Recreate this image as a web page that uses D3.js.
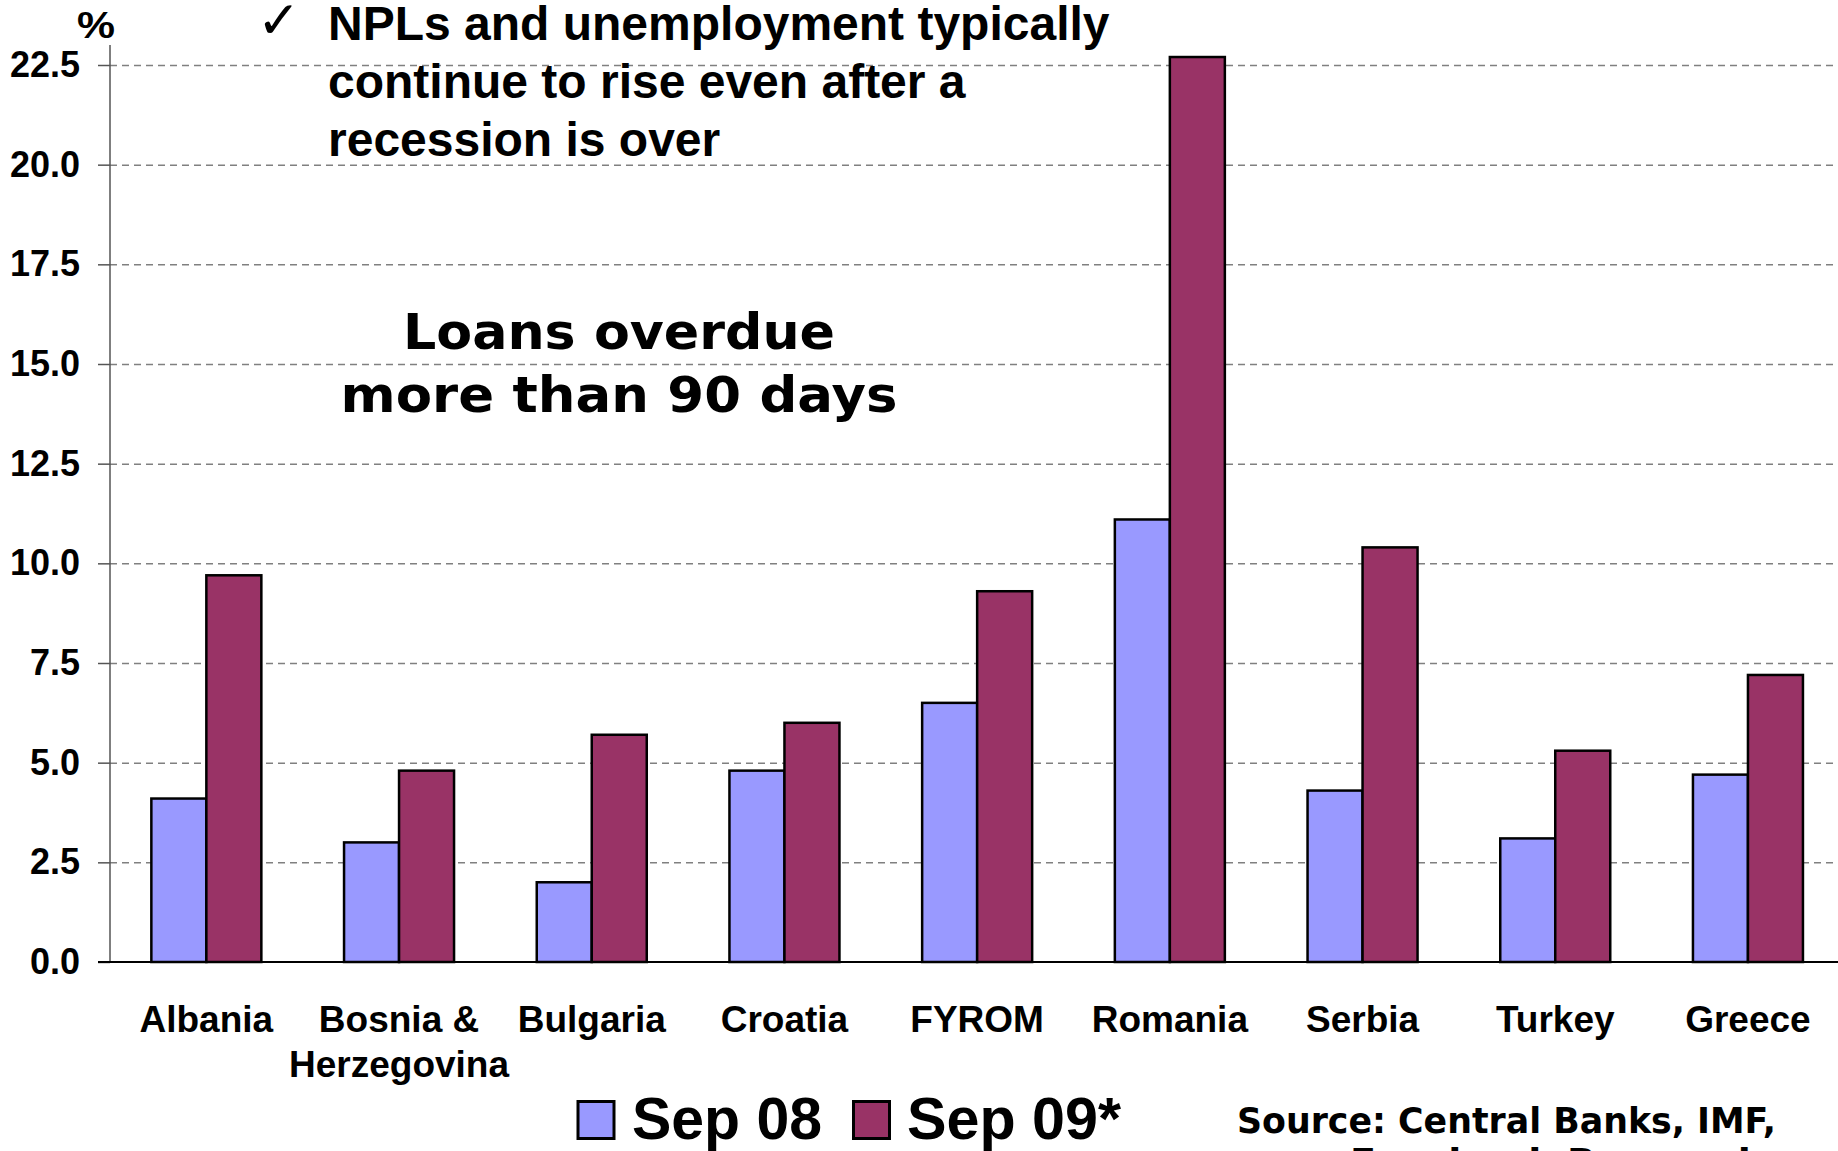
<!DOCTYPE html>
<html>
<head>
<meta charset="utf-8">
<script src="https://cdn.jsdelivr.net/npm/d3@7"></script>
<style>
  html, body { margin: 0; padding: 0; background: #fff; }
  svg { display: block; }
</style>
</head>
<body>
<script>
// Non-performing loans: share of loans overdue more than 90 days (%)
const categories = ["Albania", "Bosnia &\nHerzegovina", "Bulgaria", "Croatia", "FYROM", "Romania", "Serbia", "Turkey", "Greece"];
const seriesNames = ["Sep 08", "Sep 09*"];
const sep08 = [4.1, 3.0, 2.0, 4.8, 6.5, 11.1, 4.3, 3.1, 4.7];
const sep09 = [9.7, 4.8, 5.7, 6.0, 9.3, 22.7, 10.4, 5.3, 7.2];
const yTicks = [0, 2.5, 5, 7.5, 10, 12.5, 15, 17.5, 20, 22.5];
const colors = ["#9999FF", "#993366"];

const W = 1838, H = 1151;
const ARIAL = "'Liberation Sans', Arial, sans-serif";
const VERDANA = "'DejaVu Sans', Verdana, sans-serif";

const svg = d3.select("body").append("svg").attr("width", W).attr("height", H);

const axisX = 110, zeroY = 962, topY = 65;
const y = d3.scaleLinear().domain([0, 22.5]).range([zeroY, topY]);
const x0 = d3.scaleBand().domain(categories).range([axisX, axisX + 9 * 192.7]);
const x1 = d3.scaleBand().domain(seriesNames).range([0, 110]);
const groupOffset = (x0.bandwidth() - 110) / 2;

// dashed horizontal gridlines
const grid = svg.append("g")
  .attr("transform", `translate(${axisX},0)`)
  .call(d3.axisRight(y).tickValues(yTicks.filter(d => d > 0)).tickSize(W - axisX).tickFormat(""));
grid.select(".domain").remove();
grid.selectAll("line").attr("stroke", "#808080").attr("stroke-width", 1.5).attr("stroke-dasharray", "7,5");

// bars
const data = categories.map((c, i) => ({ c, vals: [sep08[i], sep09[i]] }));
const groups = svg.append("g").selectAll("g").data(data).join("g")
  .attr("transform", d => `translate(${x0(d.c) + groupOffset},0)`);
groups.selectAll("rect").data(d => d.vals.map((v, k) => ({ v, k })))
  .join("rect")
  .attr("x", d => x1(seriesNames[d.k]))
  .attr("width", x1.bandwidth())
  .attr("y", d => y(d.v))
  .attr("height", d => y(0) - y(d.v))
  .attr("fill", d => colors[d.k])
  .attr("stroke", "#000")
  .attr("stroke-width", 2.5);

// y axis
const yAxis = svg.append("g")
  .attr("transform", `translate(${axisX},0)`)
  .call(d3.axisLeft(y).tickValues(yTicks).tickSize(12).tickSizeOuter(0).tickPadding(18).tickFormat(d3.format(".1f")));
yAxis.select(".domain").attr("d", `M0,45V${zeroY}`).attr("stroke", "#555").attr("stroke-width", 1.5);
yAxis.selectAll(".tick line").attr("stroke", "#555").attr("stroke-width", 1.5);
yAxis.selectAll(".tick text")
  .attr("font-family", ARIAL).attr("font-weight", "bold").attr("font-size", 36).attr("fill", "#000");

// category axis line
svg.append("line")
  .attr("x1", 98).attr("x2", W).attr("y1", zeroY).attr("y2", zeroY)
  .attr("stroke", "#000").attr("stroke-width", 2);

// category labels
const catLabels = svg.append("g").selectAll("text").data(categories).join("text")
  .attr("x", d => x0(d) + x0.bandwidth() / 2)
  .attr("y", 1032)
  .attr("text-anchor", "middle")
  .attr("font-family", ARIAL).attr("font-weight", "bold").attr("font-size", 37);
catLabels.each(function (d) {
  const sel = d3.select(this);
  d.split("\n").forEach((line, i) => {
    sel.append("tspan").attr("x", x0(d) + x0.bandwidth() / 2).attr("dy", i === 0 ? 0 : 45).text(line);
  });
});

// unit label
svg.append("text").attr("x", 77).attr("y", 38)
  .attr("font-family", ARIAL).attr("font-weight", "bold").attr("font-size", 36)
  .attr("textLength", 38).attr("lengthAdjust", "spacingAndGlyphs").text("%");

// bullet note
svg.append("text").attr("x", 257).attr("y", 38)
  .attr("font-family", VERDANA).attr("font-size", 52).text("\u2713");
const note = ["NPLs and unemployment typically", "continue to rise even after a", "recession is over"];
svg.append("g").selectAll("text").data(note).join("text")
  .attr("x", 328).attr("y", (d, i) => 40 + i * 58)
  .attr("font-family", ARIAL).attr("font-weight", "bold").attr("font-size", 48)
  .text(d => d);

// chart title inside plot
const title = [{ t: "Loans overdue", w: 432 }, { t: "more than 90 days", w: 557 }];
svg.append("g").selectAll("text").data(title).join("text")
  .attr("x", d => 619 - d.w / 2).attr("y", (d, i) => 349 + i * 63)
  .attr("font-family", VERDANA).attr("font-weight", "bold").attr("font-size", 50)
  .attr("textLength", d => d.w).attr("lengthAdjust", "spacingAndGlyphs")
  .text(d => d.t);

// legend
const legendItems = [{ x: 578, tx: 632, w: 190 }, { x: 853.5, tx: 907, w: 214 }];
const leg = svg.append("g").selectAll("g").data(legendItems).join("g");
leg.append("rect")
  .attr("x", d => d.x).attr("y", 1101.5).attr("width", 36).attr("height", 37)
  .attr("fill", (d, i) => colors[i]).attr("stroke", "#000").attr("stroke-width", 3);
leg.append("text")
  .attr("x", d => d.tx).attr("y", 1139)
  .attr("font-family", ARIAL).attr("font-weight", "bold").attr("font-size", 59)
  .attr("textLength", d => d.w).attr("lengthAdjust", "spacingAndGlyphs")
  .text((d, i) => seriesNames[i]);

// source note
const source = [{ t: "Source: Central Banks, IMF,", x: 1237, y: 1133, w: 539 }, { t: "Eurobank Research", x: 1350, y: 1174, w: 415 }];
svg.append("g").selectAll("text").data(source).join("text")
  .attr("x", d => d.x).attr("y", d => d.y)
  .attr("font-family", VERDANA).attr("font-weight", "bold").attr("font-size", 36)
  .attr("textLength", d => d.w).attr("lengthAdjust", "spacingAndGlyphs")
  .text(d => d.t);
</script>
</body>
</html>
